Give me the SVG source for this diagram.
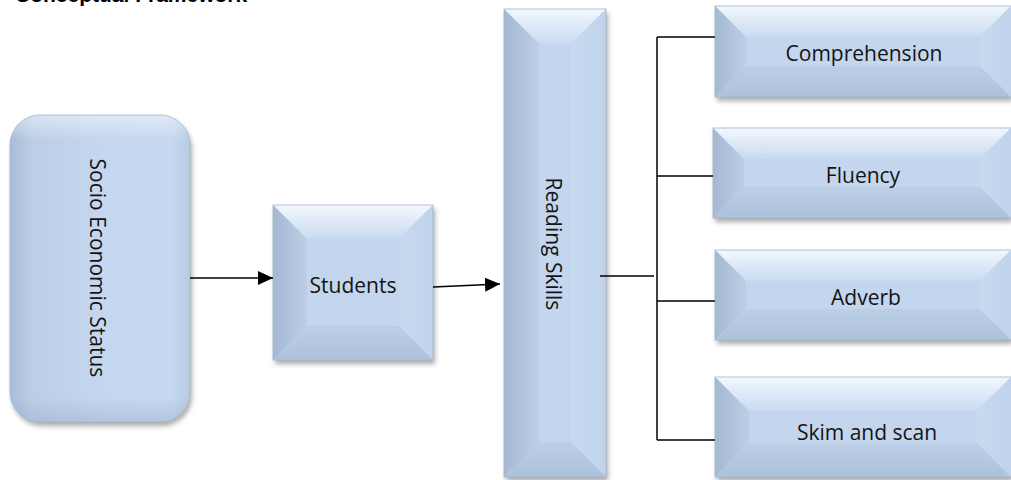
<svg xmlns="http://www.w3.org/2000/svg" width="1011" height="480" viewBox="0 0 1011 480">
<style>
.lbl{font-family:"Open Sans","Liberation Sans",sans-serif;font-size:21px;fill:#141414;text-anchor:middle}
.hdr{font-family:"Liberation Sans",Arial,sans-serif;font-size:21px;font-weight:bold;fill:#000}
.ft{fill:url(#gTop)}
.fl{fill:url(#gLeft)}
.fr{fill:url(#gRight)}
.fb{fill:url(#gBot)}
.fc{fill:#c4d6ed}
.edge{fill:none;stroke:#a3b5cd;stroke-width:0.8}
.conn{stroke:#000;stroke-width:1.5;fill:none}
</style>
<defs>
<linearGradient id="gTop" x1="0" y1="0" x2="0" y2="1"><stop offset="0" stop-color="#f3f8fe"/><stop offset="0.5" stop-color="#dde9f7"/><stop offset="1" stop-color="#c9dbf1"/></linearGradient>
<linearGradient id="gLeft" x1="0" y1="0" x2="1" y2="0"><stop offset="0" stop-color="#a5b8d2"/><stop offset="1" stop-color="#bdcee6"/></linearGradient>
<linearGradient id="gRight" x1="0" y1="0" x2="1" y2="0"><stop offset="0" stop-color="#c8daf0"/><stop offset="1" stop-color="#c0d3eb"/></linearGradient>
<linearGradient id="gBot" x1="0" y1="0" x2="0" y2="1"><stop offset="0" stop-color="#bccfe7"/><stop offset="1" stop-color="#adc1da"/></linearGradient>
<linearGradient id="gRound" x1="0" y1="0" x2="1" y2="0"><stop offset="0" stop-color="#a9bcd6"/><stop offset="0.12" stop-color="#bccee6"/><stop offset="0.5" stop-color="#c5d7ee"/><stop offset="0.9" stop-color="#c6d8ef"/><stop offset="1" stop-color="#b8cbe4"/></linearGradient>
<linearGradient id="gRoundV" x1="0" y1="0" x2="0" y2="1"><stop offset="0" stop-color="#ffffff" stop-opacity="0.45"/><stop offset="0.08" stop-color="#ffffff" stop-opacity="0"/><stop offset="0.92" stop-color="#8ea3c0" stop-opacity="0"/><stop offset="1" stop-color="#8ea3c0" stop-opacity="0.35"/></linearGradient>
<filter id="sh" x="-10%" y="-10%" width="125%" height="125%"><feDropShadow dx="2" dy="4" stdDeviation="2.5" flood-color="#000" flood-opacity="0.33"/></filter>
<marker id="ah" markerUnits="userSpaceOnUse" markerWidth="15" markerHeight="14" refX="15" refY="7" orient="auto"><path d="M0,0 L15,7 L0,14 z" fill="#000"/></marker>
</defs>

<text class="hdr" x="15" y="2">Conceptual Framework</text>

<g id="node-socio">
<g filter="url(#sh)"><rect x="10" y="115" width="180" height="307" rx="30" fill="url(#gRound)"/></g>
<rect x="10" y="115" width="180" height="307" rx="30" fill="url(#gRoundV)"/>
<rect x="10" y="115" width="180" height="307" rx="30" class="edge"/>
<text class="lbl" transform="translate(97,268) rotate(90)" x="0" y="7.5">Socio Economic Status</text>
</g>

<g id="node-students">
<g filter="url(#sh)">
<rect x="273" y="205" width="160" height="155" class="fc"/>
<polygon class="ft" points="273,205 433,205 399,239 307,239"/>
<polygon class="fl" points="273,205 307,239 307,326 273,360"/>
<polygon class="fr" points="433,205 433,360 399,326 399,239"/>
<polygon class="fb" points="273,360 307,326 399,326 433,360"/>
</g>
<rect x="273" y="205" width="160" height="155" class="edge"/>
<text class="lbl" x="353" y="293">Students</text>
</g>

<g id="node-reading">
<g filter="url(#sh)">
<rect x="504" y="9" width="102" height="468" class="fc"/>
<polygon class="ft" points="504,9 606,9 571,44 539,44"/>
<polygon class="fl" points="504,9 539,44 539,442 504,477"/>
<polygon class="fr" points="606,9 606,477 571,442 571,44"/>
<polygon class="fb" points="504,477 539,442 571,442 606,477"/>
</g>
<rect x="504" y="9" width="102" height="468" class="edge"/>
<text class="lbl" transform="translate(553,244) rotate(90)" x="0" y="7.5">Reading Skills</text>
</g>

<g id="node-comprehension">
<g filter="url(#sh)">
<rect x="715" y="6" width="296" height="91" class="fc"/>
<polygon class="ft" points="715,6 1011,6 980,37 746,37"/>
<polygon class="fl" points="715,6 746,37 746,66 715,97"/>
<polygon class="fr" points="1011,6 1011,97 980,66 980,37"/>
<polygon class="fb" points="715,97 746,66 980,66 1011,97"/>
</g>
<rect x="715" y="6" width="300" height="91" class="edge"/>
<text class="lbl" x="864" y="61">Comprehension</text>
</g>

<g id="node-fluency">
<g filter="url(#sh)">
<rect x="713" y="128" width="298" height="90" class="fc"/>
<polygon class="ft" points="713,128 1011,128 980,159 744,159"/>
<polygon class="fl" points="713,128 744,159 744,187 713,218"/>
<polygon class="fr" points="1011,128 1011,218 980,187 980,159"/>
<polygon class="fb" points="713,218 744,187 980,187 1011,218"/>
</g>
<rect x="713" y="128" width="302" height="90" class="edge"/>
<text class="lbl" x="863" y="183">Fluency</text>
</g>

<g id="node-adverb">
<g filter="url(#sh)">
<rect x="715" y="250" width="296" height="90" class="fc"/>
<polygon class="ft" points="715,250 1011,250 980,281 746,281"/>
<polygon class="fl" points="715,250 746,281 746,309 715,340"/>
<polygon class="fr" points="1011,250 1011,340 980,309 980,281"/>
<polygon class="fb" points="715,340 746,309 980,309 1011,340"/>
</g>
<rect x="715" y="250" width="300" height="90" class="edge"/>
<text class="lbl" x="866" y="305">Adverb</text>
</g>

<g id="node-skim">
<g filter="url(#sh)">
<rect x="715" y="377" width="296" height="100" class="fc"/>
<polygon class="ft" points="715,377 1011,377 977,411 749,411"/>
<polygon class="fl" points="715,377 749,411 749,443 715,477"/>
<polygon class="fr" points="1011,377 1011,477 977,443 977,411"/>
<polygon class="fb" points="715,477 749,443 977,443 1011,477"/>
</g>
<rect x="715" y="377" width="300" height="100" class="edge"/>
<text class="lbl" x="867" y="440">Skim and scan</text>
</g>

<g id="connectors">
<line class="conn" x1="190" y1="278" x2="273" y2="278" marker-end="url(#ah)"/>
<line class="conn" x1="433" y1="287" x2="500" y2="284" marker-end="url(#ah)"/>
<line class="conn" x1="600" y1="276" x2="654" y2="276"/>
<line class="conn" x1="657" y1="37" x2="657" y2="440"/>
<line class="conn" x1="657" y1="37" x2="715" y2="37"/>
<line class="conn" x1="657" y1="176" x2="713" y2="176"/>
<line class="conn" x1="657" y1="301" x2="715" y2="301"/>
<line class="conn" x1="657" y1="440" x2="715" y2="440"/>
</g>
</svg>
